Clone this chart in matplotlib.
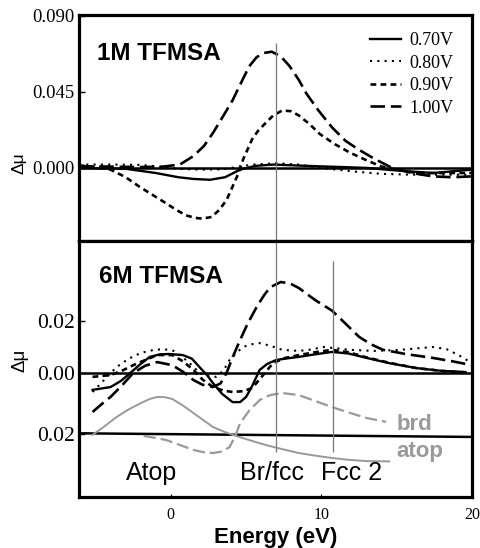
import matplotlib
matplotlib.use("Agg")
import matplotlib.pyplot as plt
from matplotlib.ticker import FixedLocator

# energy grid (eV) and difference spectra, 1M TFMSA
e_1m_070 = [-6.1, -3.0, -1.0, 0.5, 1.5, 2.6, 3.6, 4.6, 5.6, 6.8, 8.2, 9.7, 11.5, 13.0, 15.0, 17.4, 20.0]
d_1m_070 = [0.0, -0.0005, -0.003, -0.0055, -0.0065, -0.007, -0.0055, -0.001, 0.0012, 0.002, 0.0015, 0.001, 0.0005, 0.0, -0.0015, -0.003, -0.001]

e_1m_080 = [-6.1, -4.0, -2.0, -1.0, 0.5, 2.0, 3.5, 4.5, 5.5, 7.0, 8.5, 10.0, 12.0, 14.0, 16.0, 18.0, 20.0]
d_1m_080 = [0.002, 0.002, 0.0018, 0.001, -0.0005, -0.001, -0.0008, 0.0008, 0.002, 0.0028, 0.002, 0.0, -0.002, -0.0035, -0.004, -0.004, -0.004]

e_1m_090 = [-6.1, -5.0, -4.0, -3.0, -2.1, -1.2, -0.3, 0.4, 1.0, 1.6, 2.1, 2.7, 3.2, 3.7, 4.1, 4.5, 4.8, 5.1, 5.4, 5.8, 6.3, 6.8, 7.4, 8.0, 8.5, 9.2, 9.9, 10.9, 11.9, 13.0, 14.0, 15.0, 16.3, 18.0, 20.0]
d_1m_090 = [0.0015, 0.0005, -0.001, -0.0055, -0.011, -0.016, -0.021, -0.025, -0.028, -0.0295, -0.030, -0.029, -0.025, -0.019, -0.011, -0.003, 0.005, 0.011, 0.017, 0.022, 0.0266, 0.031, 0.034, 0.0335, 0.031, 0.026, 0.020, 0.014, 0.009, 0.0045, 0.0008, -0.001, -0.003, -0.003, -0.003]

e_1m_100 = [-6.1, -4.0, -2.0, -0.5, 0.6, 1.5, 2.2, 2.8, 3.5, 4.1, 4.7, 5.2, 5.7, 6.2, 6.7, 7.3, 7.9, 8.5, 9.0, 9.8, 10.7, 11.6, 12.5, 13.6, 14.7, 16.0, 17.4, 18.7, 20.0]
d_1m_100 = [0.001, 0.0008, 0.0005, 0.0008, 0.002, 0.007, 0.013, 0.0207, 0.031, 0.040, 0.051, 0.060, 0.0655, 0.068, 0.0687, 0.066, 0.060, 0.052, 0.044, 0.034, 0.024, 0.016, 0.0107, 0.005, 0.0, -0.003, -0.005, -0.0055, -0.005]

# 6M TFMSA
e_6m_070 = [-5.2, -4.0, -3.3, -2.7, -2.0, -1.4, -0.7, -0.1, 0.8, 1.4, 1.9, 2.4, 2.8, 3.4, 4.1, 4.6, 5.0, 5.4, 5.9, 6.4, 7.0, 7.7, 8.5, 9.6, 10.7, 11.8, 13.0, 14.5, 16.3, 18.0, 19.5]
d_6m_070 = [-0.0065, -0.0054, -0.003, 0.0, 0.0035, 0.0062, 0.0072, 0.0073, 0.0069, 0.0055, 0.0023, -0.0008, -0.0039, -0.008, -0.0112, -0.0112, -0.0092, -0.005, 0.0012, 0.0035, 0.005, 0.0056, 0.0062, 0.0072, 0.0081, 0.0075, 0.0058, 0.0038, 0.0019, 0.0008, 0.0004]

e_6m_080 = [-5.2, -4.4, -3.6, -2.8, -2.0, -1.2, -0.5, 0.2, 0.8, 1.4, 1.9, 2.5, 3.0, 3.5, 3.9, 4.4, 4.8, 5.3, 5.9, 6.6, 7.4, 8.5, 9.3, 10.1, 11.0, 11.9, 13.5, 15.2, 16.4, 17.4, 18.3, 19.1, 20.0]
d_6m_080 = [-0.0073, -0.0025, 0.0023, 0.0055, 0.0077, 0.0088, 0.0092, 0.0085, 0.006, 0.003, 0.0, -0.0012, -0.0015, 0.001, 0.005, 0.008, 0.010, 0.011, 0.0115, 0.0105, 0.0089, 0.0085, 0.009, 0.010, 0.0095, 0.0089, 0.0085, 0.0089, 0.0095, 0.010, 0.0092, 0.0069, 0.0038]

e_6m_090 = [-5.2, -4.0, -3.2, -2.5, -1.7, -0.9, 0.1, 0.8, 1.5, 2.1, 2.8, 3.5, 4.1, 4.8, 5.4, 6.1, 6.8, 7.6, 8.5, 9.6, 10.7, 11.8, 13.0, 14.6, 16.3, 18.0, 20.0]
d_6m_090 = [-0.0015, -0.0008, 0.001, 0.003, 0.005, 0.0069, 0.0069, 0.0045, 0.0012, -0.0025, -0.0054, -0.0068, -0.0073, -0.007, -0.0058, -0.001, 0.0039, 0.0058, 0.0069, 0.008, 0.0089, 0.008, 0.006, 0.0038, 0.0019, 0.0008, 0.0]

e_6m_100 = [-5.2, -4.6, -4.0, -3.2, -2.5, -1.7, -0.9, 0.1, 0.8, 1.5, 2.1, 2.8, 3.3, 3.7, 4.1, 4.6, 5.1, 5.7, 6.2, 6.6, 7.3, 7.9, 8.5, 9.6, 10.7, 11.6, 12.5, 13.3, 14.1, 15.7, 17.4, 18.7, 20.0]
d_6m_100 = [-0.015, -0.012, -0.0092, -0.0045, 0.0, 0.0028, 0.0042, 0.003, 0.0005, -0.0027, -0.0045, -0.0054, -0.004, 0.0, 0.006, 0.0127, 0.019, 0.0254, 0.030, 0.033, 0.035, 0.0345, 0.0327, 0.028, 0.024, 0.019, 0.0139, 0.011, 0.0089, 0.0072, 0.0058, 0.0045, 0.003]

# calculated spectra, shifted down to the lower baseline
e_atop = [-5.2, -4.4, -3.6, -2.8, -2.0, -1.4, -0.9, -0.4, 0.1, 0.8, 1.5, 2.2, 2.8, 3.5, 4.1, 5.2, 6.3, 7.4, 8.5, 9.6, 10.7, 11.8, 13.0, 14.5]
d_atop = [-0.0238, -0.0205, -0.0169, -0.014, -0.0116, -0.0100, -0.0092, -0.0093, -0.010, -0.0125, -0.0154, -0.0183, -0.0208, -0.0225, -0.0238, -0.0258, -0.0277, -0.0293, -0.0308, -0.0318, -0.0327, -0.0334, -0.0339, -0.034]

e_brd = [-1.8, -1.0, -0.3, 0.6, 1.5, 2.2, 2.8, 3.4, 3.9, 4.3, 4.6, 5.2, 5.9, 6.6, 7.4, 8.5, 9.6, 10.7, 11.8, 13.0, 14.3]
d_brd = [-0.0242, -0.025, -0.0258, -0.0277, -0.0296, -0.0305, -0.0308, -0.0302, -0.0285, -0.024, -0.0193, -0.0145, -0.0104, -0.0085, -0.0077, -0.0085, -0.0108, -0.0131, -0.0152, -0.0173, -0.0188]

legend_labels = ["0.70V", "0.80V", "0.90V", "1.00V"]
site_labels = ["Atop", "Br/fcc", "Fcc 2"]
site_energy = [-1.3, 6.7, 12.0]
bin_lines = [7.0, 10.8]

styles = [
    dict(linestyle="-", linewidth=1.7),
    dict(linestyle=(0, (1, 2.5)), linewidth=1.5),
    dict(linestyle=(0, (2.2, 1.6)), linewidth=1.9),
    dict(linestyle=(0, (5.5, 2.2)), linewidth=1.9),
]

serif = "Liberation Serif"
sans = "Liberation Sans"
frame_w = 2.3
xlim = (-6.1, 20.0)

fig = plt.figure(figsize=(4.81, 5.48), dpi=100)
ax1 = fig.add_axes([0.1642, 0.5602, 0.8171, 0.4124])
ax2 = fig.add_axes([0.1642, 0.0931, 0.8171, 0.4672])

for ax in (ax1, ax2):
    ax.set_xlim(*xlim)
    for s in ax.spines.values():
        s.set_linewidth(frame_w)
    ax.tick_params(axis="y", direction="in", length=4, width=1, pad=3)

# top panel
ax1.set_ylim(-0.0432, 0.0904)
ax1.axhline(0.0, color="black", lw=1.8, zorder=1)
top_data = [(e_1m_070, d_1m_070), (e_1m_080, d_1m_080), (e_1m_090, d_1m_090), (e_1m_100, d_1m_100)]
for (e, d), st, lab in zip(top_data, styles, legend_labels):
    ax1.plot(e, d, color="black", label=lab, **st)
ax1.vlines(bin_lines[0], -0.0432, 0.074, color="#777777", lw=0.9)
ax1.yaxis.set_major_locator(FixedLocator([0.0, 0.045, 0.090]))
ax1.set_yticklabels(["0.000", "0.045", "0.090"], fontfamily=serif, fontsize=13.5)
ax1.set_xticks([])
ax1.text(0.045, 0.80, "1M TFMSA", transform=ax1.transAxes, fontfamily=sans,
         fontweight="bold", fontsize=17.5)
leg = ax1.legend(loc="upper right", bbox_to_anchor=(0.995, 0.995), frameon=False,
                 prop=dict(family=serif, size=13), handlelength=1.7,
                 handletextpad=0.5, labelspacing=0.3)
ax1.set_ylabel("Δμ", fontfamily=sans, fontsize=12.5)
ax1.yaxis.set_label_coords(-0.133, 0.343)

# bottom panel
ax2.set_ylim(-0.0477, 0.0508)
ax2.axhline(0.0, color="black", lw=1.8, zorder=1)
ax2.plot([xlim[0], xlim[1]], [-0.0232, -0.0246], color="black", lw=1.8, zorder=1)
bottom_data = [(e_6m_070, d_6m_070), (e_6m_080, d_6m_080), (e_6m_090, d_6m_090), (e_6m_100, d_6m_100)]
for (e, d), st in zip(bottom_data, styles):
    ax2.plot(e, d, color="black", **st)
ax2.plot(e_atop, d_atop, color="#999999", lw=1.4)
ax2.plot(e_brd, d_brd, color="#999999", lw=1.6, linestyle=(0, (5.5, 2.2)))
ax2.vlines(bin_lines[0], -0.0305, 0.0508, color="#777777", lw=0.9)
ax2.vlines(bin_lines[1], -0.0305, 0.043, color="#777777", lw=0.9)
ax2.yaxis.set_major_locator(FixedLocator([-0.0235, 0.0, 0.02]))
ax2.set_yticklabels(["0.02", "0.00", "0.02"], fontfamily=serif, fontsize=15.5)
ax2.set_xticks([0, 10, 20])
ax2.set_xticklabels(["0", "10", "20"], fontfamily=serif, fontsize=11.5)
ax2.tick_params(axis="x", direction="in", length=2, width=0.8, pad=7)
ax2.text(0.05, 0.835, "6M TFMSA", transform=ax2.transAxes, fontfamily=sans,
         fontweight="bold", fontsize=17.5)
for lab, e in zip(site_labels, site_energy):
    ax2.text(e, -0.0383, lab, ha="center", va="center", fontfamily=sans, fontsize=18)
ax2.text(15.0, -0.0198, "brd", color="#999999", fontfamily=sans, fontweight="bold",
         fontsize=16, va="center")
ax2.text(15.0, -0.0303, "atop", color="#999999", fontfamily=sans, fontweight="bold",
         fontsize=16, va="center")
ax2.set_ylabel("Δμ", fontfamily=sans, fontsize=13.5)
ax2.yaxis.set_label_coords(-0.128, 0.535)
ax2.set_xlabel("Energy (eV)", fontfamily=sans, fontweight="bold", fontsize=16, labelpad=3)

fig.savefig("out.png", dpi=100)
